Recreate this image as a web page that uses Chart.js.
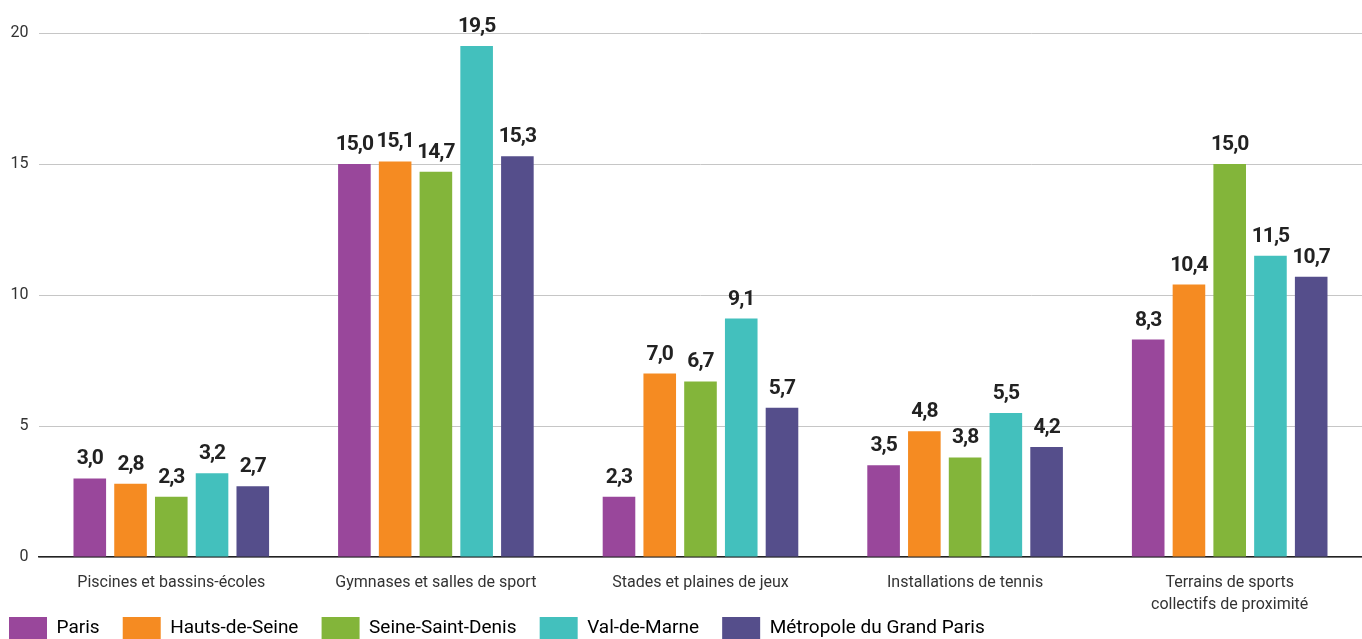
<!DOCTYPE html>
<html>
<head>
<meta charset="utf-8">
<script src="https://cdn.jsdelivr.net/npm/chart.js@4.4.0/dist/chart.umd.min.js"></script>
<style>
    html, body { margin: 0; padding: 0; background: #fff; overflow: hidden; }
    #chartBox { width: 1362px; height: 649px; position: relative; }
</style>
</head>
<body>
<div id="chartBox"><canvas id="barChart"></canvas></div>
<script>
const categories = [
    "Piscines et bassins-écoles",
    "Gymnases et salles de sport",
    "Stades et plaines de jeux",
    "Installations de tennis",
    ["Terrains de sports", "collectifs de proximité"]
];

const paris = [3.0, 15.0, 2.3, 3.5, 8.3];
const hautsDeSeine = [2.8, 15.1, 7.0, 4.8, 10.4];
const seineSaintDenis = [2.3, 14.7, 6.7, 3.8, 15.0];
const valDeMarne = [3.2, 19.5, 9.1, 5.5, 11.5];
const metropole = [2.7, 15.3, 5.7, 4.2, 10.7];

const yTicks = [0, 5, 10, 15, 20];

const seriesNames = ["Paris", "Hauts-de-Seine", "Seine-Saint-Denis", "Val-de-Marne", "Métropole du Grand Paris"];
const seriesColors = ["#99479b", "#f58b22", "#83b53a", "#43c0bd", "#554e8b"];

function formatValue(v) {
    return v.toFixed(1).replace(".", ",");
}

// draws the value above each bar
const valueLabels = {
    id: "valueLabels",
    afterDatasetsDraw(chart) {
        const ctx = chart.ctx;
        ctx.save();
        ctx.font = "bold 21px Roboto";
        ctx.fillStyle = "#222";
        ctx.textAlign = "center";
        ctx.textBaseline = "alphabetic";
        if ("letterSpacing" in ctx) ctx.letterSpacing = "-1px";
        chart.data.datasets.forEach((ds, i) => {
            const meta = chart.getDatasetMeta(i);
            meta.data.forEach((bar, j) => {
                ctx.fillText(formatValue(ds.data[j]), bar.x, bar.y - 14);
            });
        });
        ctx.restore();
    }
};

const seriesData = [paris, hautsDeSeine, seineSaintDenis, valDeMarne, metropole];

new Chart(document.getElementById("barChart").getContext("2d"), {
    type: "bar",
    data: {
        labels: categories,
        datasets: seriesNames.map((name, i) => ({
            label: name,
            data: seriesData[i],
            backgroundColor: seriesColors[i],
            borderWidth: 0,
            categoryPercentage: 0.77,
            barPercentage: 0.8
        }))
    },
    options: {
        responsive: true,
        maintainAspectRatio: false,
        animation: false,
        layout: {
            padding: { top: 33, left: 0, right: 0, bottom: 0 }
        },
        plugins: {
            legend: {
                position: "bottom",
                align: "start",
                labels: {
                    boxWidth: 38,
                    boxHeight: 22,
                    padding: 9,
                    color: "#222",
                    font: { family: "Roboto", size: 19 },
                    generateLabels: function (chart) {
                        return chart.data.datasets.map((ds, i) => ({
                            text: ds.label + "   ",
                            fillStyle: ds.backgroundColor,
                            strokeStyle: ds.backgroundColor,
                            lineWidth: 0,
                            hidden: false,
                            datasetIndex: i
                        }));
                    }
                }
            },
            tooltip: { enabled: false }
        },
        scales: {
            x: {
                grid: { display: false },
                border: { display: true, color: "#222", width: 1.5 },
                ticks: {
                    color: "#333",
                    font: { family: "Roboto", size: 16, lineHeight: 1.375 },
                    padding: 7,
                    maxRotation: 0,
                    autoSkip: false
                },
                afterFit: function (scale) {
                    scale.height = 51;
                    // let the two-line label run below the axis box
                    scale._computeLabelArea = () => undefined;
                }
            },
            y: {
                min: 0,
                max: 20,
                afterBuildTicks: function (axis) {
                    axis.ticks = yTicks.map(v => ({ value: v }));
                },
                grid: { color: "#c6c6c6", lineWidth: 1, drawTicks: false },
                border: { display: false },
                ticks: {
                    color: "#333",
                    font: { family: "Roboto", size: 16 },
                    padding: 10.5
                }
            }
        }
    },
    plugins: [valueLabels]
});
</script>
</body>
</html>
